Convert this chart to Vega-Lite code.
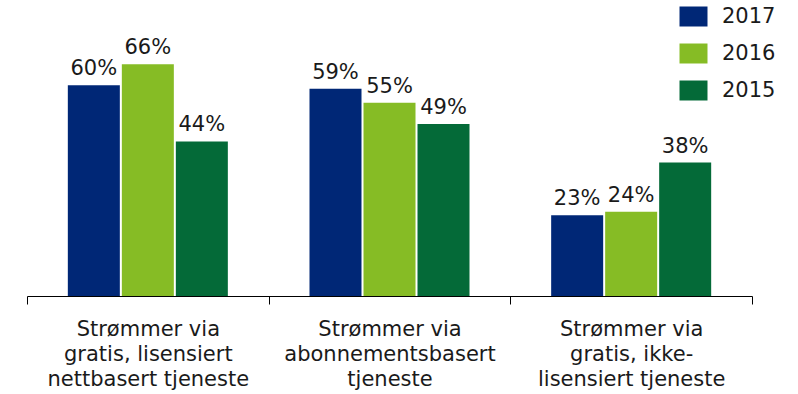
{
  "$schema": "https://vega.github.io/schema/vega-lite/v6.json",
  "width": 725,
  "height": 281,
  "autosize": "none",
  "padding": {"left": 27, "top": 15, "right": 46, "bottom": 98},
  "config": {
    "view": {"stroke": null},
    "font": "DejaVu Sans",
    "text": {"color": "#1a1a1a"}
  },
  "data": {
    "values": [
      {"kategori": "Strømmer via|gratis, lisensiert|nettbasert tjeneste", "år": "2017", "andel": 0.60},
      {"kategori": "Strømmer via|gratis, lisensiert|nettbasert tjeneste", "år": "2016", "andel": 0.66},
      {"kategori": "Strømmer via|gratis, lisensiert|nettbasert tjeneste", "år": "2015", "andel": 0.44},
      {"kategori": "Strømmer via|abonnementsbasert|tjeneste", "år": "2017", "andel": 0.59},
      {"kategori": "Strømmer via|abonnementsbasert|tjeneste", "år": "2016", "andel": 0.55},
      {"kategori": "Strømmer via|abonnementsbasert|tjeneste", "år": "2015", "andel": 0.49},
      {"kategori": "Strømmer via|gratis, ikke-|lisensiert tjeneste", "år": "2017", "andel": 0.23},
      {"kategori": "Strømmer via|gratis, ikke-|lisensiert tjeneste", "år": "2016", "andel": 0.24},
      {"kategori": "Strømmer via|gratis, ikke-|lisensiert tjeneste", "år": "2015", "andel": 0.38}
    ]
  },
  "encoding": {
    "x": {
      "field": "kategori",
      "type": "nominal",
      "sort": null,
      "title": null,
      "scale": {"paddingInner": 0, "paddingOuter": 0},
      "axis": {
        "labelAngle": 0,
        "labelExpr": "split(datum.label, '|')",
        "labelFontSize": 21,
        "labelLineHeight": 25,
        "labelColor": "#1a1a1a",
        "labelPadding": 14,
        "labelBaseline": "top",
        "labelLimit": 300,
        "domainColor": "#000000",
        "domainWidth": 1,
        "tickColor": "#000000",
        "tickSize": 8,
        "tickBand": "extent",
        "grid": false
      }
    },
    "xOffset": {
      "field": "år",
      "type": "nominal",
      "sort": ["2017", "2016", "2015"],
      "scale": {"paddingInner": 0.037, "paddingOuter": 0.756}
    },
    "y": {
      "field": "andel",
      "type": "quantitative",
      "scale": {"domain": [0, 0.8]},
      "axis": null
    }
  },
  "layer": [
    {
      "mark": {"type": "bar"},
      "encoding": {
        "color": {
          "field": "år",
          "type": "nominal",
          "scale": {
            "domain": ["2017", "2016", "2015"],
            "range": ["#002776", "#86BC25", "#046A38"]
          },
          "legend": {
            "title": null,
            "orient": "none",
            "legendX": 656,
            "legendY": -9,
            "symbolType": "M-1.4,-1H1.4V1H-1.4Z",
            "symbolSize": 400,
            "symbolStrokeWidth": 0,
            "symbolOpacity": 1,
            "labelFontSize": 21,
            "labelColor": "#1a1a1a",
            "labelOffset": 18,
            "rowPadding": 15
          }
        }
      }
    },
    {
      "mark": {"type": "text", "baseline": "bottom", "dy": -6, "fontSize": 21},
      "encoding": {
        "text": {"field": "andel", "type": "quantitative", "format": ".0%"}
      }
    }
  ]
}
